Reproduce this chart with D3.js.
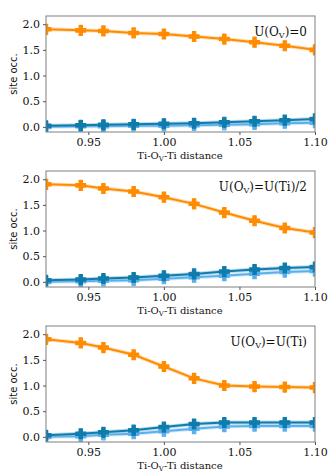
<!DOCTYPE html>
<html lang="en">
<head>
<meta charset="UTF-8" />
<script src="https://d3js.org/d3.v7.min.js"></script>
<style>
  body { margin: 0; background: #fff; }
</style>
</head>
<body>
<svg width="332" height="475"></svg>
<script>
  // data
  const distance = [0.922, 0.945, 0.96, 0.98, 1.00, 1.02, 1.04, 1.06, 1.08, 1.10];
  const panelLabels = ["=0", "=U(Ti)/2", "=U(Ti)"];
  const orange = [
    [1.90, 1.88, 1.87, 1.83, 1.81, 1.76, 1.71, 1.65, 1.58, 1.50],
    [1.90, 1.88, 1.82, 1.76, 1.65, 1.52, 1.35, 1.19, 1.05, 0.96],
    [1.90, 1.83, 1.74, 1.60, 1.37, 1.14, 1.00, 0.98, 0.97, 0.96]
  ];
  const darkBlue = [
    [0.02, 0.03, 0.04, 0.05, 0.06, 0.07, 0.09, 0.11, 0.13, 0.155],
    [0.03, 0.045, 0.065, 0.085, 0.12, 0.155, 0.20, 0.24, 0.27, 0.29],
    [0.03, 0.06, 0.09, 0.13, 0.19, 0.25, 0.28, 0.28, 0.28, 0.28]
  ];
  const lightBlue = [
    [0.00, 0.01, 0.01, 0.02, 0.02, 0.03, 0.04, 0.05, 0.07, 0.08],
    [0.00, 0.01, 0.02, 0.03, 0.06, 0.09, 0.12, 0.16, 0.19, 0.21],
    [0.00, 0.01, 0.04, 0.06, 0.11, 0.16, 0.20, 0.21, 0.21, 0.21]
  ];
  const xTicks = [0.95, 1.00, 1.05, 1.10];
  const yTicks = [0.0, 0.5, 1.0, 1.5, 2.0];

  const svg = d3.select("svg");
  const left = 46, right = 315, plotH = 116;
  const panelTops = [16, 171, 326];
  const serif = "DejaVu Serif, serif";

  const x = d3.scaleLinear().domain([0.922, 1.10]).range([left, right]);

  const seriesStyle = [
    { color: "#ff8c00", halo: "#ffc070" },
    { color: "#0f7cab", halo: "#7ab8d8" },
    { color: "#5ab0ee", halo: "#a8d4f7" }
  ];

  // filled plus marker
  const plus = d3.symbol().type(d3.symbolCross).size(55);

  panelTops.forEach((top, p) => {
    const y = d3.scaleLinear().domain([-0.1, 2.16]).range([top + plotH, top]);
    const g = svg.append("g");

    const series = [orange[p], lightBlue[p], darkBlue[p]];
    const styles = [seriesStyle[0], seriesStyle[2], seriesStyle[1]];

    const line = d3.line().x((d, i) => x(distance[i])).y(d => y(d));

    const clip = "clip" + p;
    svg.append("clipPath").attr("id", clip)
      .append("rect").attr("x", left).attr("y", top).attr("width", right - left).attr("height", plotH);

    const plot = g.append("g").attr("clip-path", `url(#${clip})`);

    series.forEach((vals, s) => {
      plot.append("path")
        .attr("d", line(vals))
        .attr("fill", "none")
        .attr("stroke", styles[s].halo)
        .attr("stroke-opacity", 0.5)
        .attr("stroke-width", 4);
      plot.append("path")
        .attr("d", line(vals))
        .attr("fill", "none")
        .attr("stroke", styles[s].color)
        .attr("stroke-width", 2);
      plot.selectAll(null)
        .data(vals)
        .enter()
        .append("path")
        .attr("d", plus)
        .attr("transform", (d, i) => `translate(${x(distance[i])},${y(d)})`)
        .attr("fill", styles[s].color)
        .attr("stroke", styles[s].color)
        .attr("stroke-width", 1.2)
        .attr("stroke-linejoin", "round");
    });

    // frame
    g.append("rect")
      .attr("x", left).attr("y", top)
      .attr("width", right - left).attr("height", plotH)
      .attr("fill", "none").attr("stroke", "#7f7f7f").attr("stroke-width", 1);

    // axes
    const xAxis = g.append("g")
      .attr("transform", `translate(0,${top + plotH})`)
      .call(d3.axisBottom(x).tickValues(xTicks).tickFormat(d3.format(".2f")).tickSize(3).tickPadding(3));
    const yAxis = g.append("g")
      .attr("transform", `translate(${left},0)`)
      .call(d3.axisLeft(y).tickValues(yTicks).tickFormat(d3.format(".1f")).tickSize(3).tickPadding(3));
    [xAxis, yAxis].forEach(a => {
      a.select(".domain").remove();
      a.selectAll("line").attr("stroke", "#555");
      a.selectAll("text").attr("font-family", serif).attr("font-size", 11).attr("fill", "#111");
    });

    // x label
    const xl = g.append("text")
      .attr("x", 180).attr("y", top + plotH + 27)
      .attr("text-anchor", "middle")
      .attr("font-family", serif).attr("font-size", 10).attr("fill", "#111");
    xl.append("tspan").text("Ti-O");
    xl.append("tspan").attr("baseline-shift", "-25%").attr("font-size", 7).text("V");
    xl.append("tspan").text("-Ti distance");

    // y label
    g.append("text")
      .attr("transform", `translate(17,${top + plotH / 2}) rotate(-90)`)
      .attr("text-anchor", "middle")
      .attr("font-family", "DejaVu Sans, sans-serif").attr("font-size", 10).attr("fill", "#111")
      .text("site occ.");

    // annotation
    const ann = g.append("text")
      .attr("x", 307).attr("y", top + 20)
      .attr("text-anchor", "end")
      .attr("font-family", serif).attr("font-size", 12).attr("fill", "#111");
    ann.append("tspan").text("U(O");
    ann.append("tspan").attr("baseline-shift", "-25%").attr("font-size", 8).text("V");
    ann.append("tspan").text(")" + panelLabels[p]);
  });
</script>
</body>
</html>
